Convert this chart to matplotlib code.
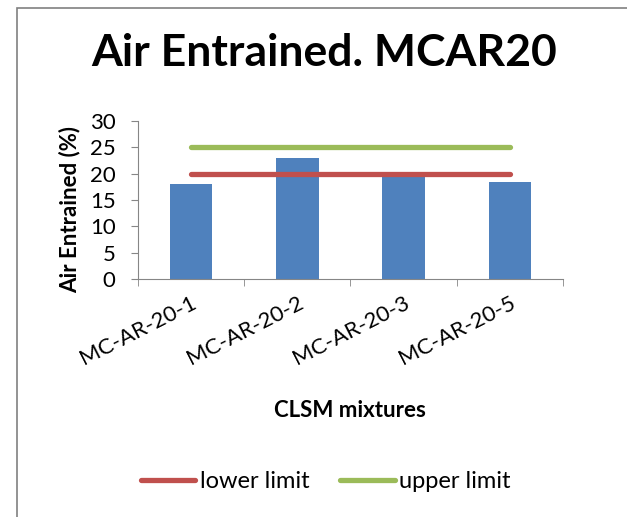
import matplotlib.pyplot as plt
import numpy as np
from matplotlib.patches import Rectangle

plt.rcParams['font.family'] = ['Lato', 'DejaVu Sans']

# mixtures and measured air content (%)
mixtures = ['MC-AR-20-1', 'MC-AR-20-2', 'MC-AR-20-3', 'MC-AR-20-5']
air = [18, 23, 19.5, 18.5]
lower_limit = [20, 20, 20, 20]
upper_limit = [25, 25, 25, 25]

BLUE = '#4F81BD'
RED = '#C0504D'
GREEN = '#9BBB59'
GRAY = '#868686'

fig = plt.figure(figsize=(6.27, 5.17), dpi=100)
# chart border
fig.patches.append(Rectangle((17 / 627, -0.1), 1.2, 1 - 8 / 517 + 0.1,
                             transform=fig.transFigure, fill=False,
                             edgecolor='#808080', lw=1.2))

ax = fig.add_axes([0.220, 0.4603, 0.678, 0.3057])
x = np.arange(len(mixtures))
ax.bar(x, air, width=0.4, color=BLUE, zorder=2)
ax.plot(x, lower_limit, color=RED, lw=3.8, solid_capstyle='round',
        label='lower limit', zorder=3)
ax.plot(x, upper_limit, color=GREEN, lw=3.8, solid_capstyle='round',
        label='upper limit', zorder=3)

ax.set_xlim(-0.5, 3.5)
ax.set_ylim(0, 30)
ax.set_yticks(range(0, 31, 5))
ax.tick_params(axis='y', labelsize=16, length=5, color=GRAY, pad=11)

# category labels sit at the centres, tick marks at the boundaries
ax.set_xticks(x)
ax.set_xticklabels(mixtures, rotation=27, ha='right',
                   rotation_mode='anchor', fontsize=16)
ax.set_xticks(np.arange(-0.5, 4, 1), minor=True)
ax.tick_params(axis='x', which='major', length=0, pad=10)
ax.tick_params(axis='x', which='minor', length=5, color=GRAY)

for s in ['top', 'right']:
    ax.spines[s].set_visible(False)
for s in ['left', 'bottom']:
    ax.spines[s].set_color(GRAY)

ax.set_ylabel('Air Entrained (%)', fontsize=16, fontweight='bold')
ax.yaxis.set_label_coords(-0.136, 0.44)
fig.text(0.558, 0.193, 'CLSM mixtures', fontsize=16, fontweight='bold',
         ha='center', va='baseline')
fig.text(0.517, 0.872, 'Air Entrained. MCAR20', fontsize=32,
         fontweight='bold', ha='center', va='baseline')

fig.legend(loc='center', bbox_to_anchor=(0.52, 0.068), ncol=2, frameon=False,
           fontsize=17, handlelength=2.3, handletextpad=0.2, columnspacing=1.3)

fig.savefig('out.png', dpi=100)
